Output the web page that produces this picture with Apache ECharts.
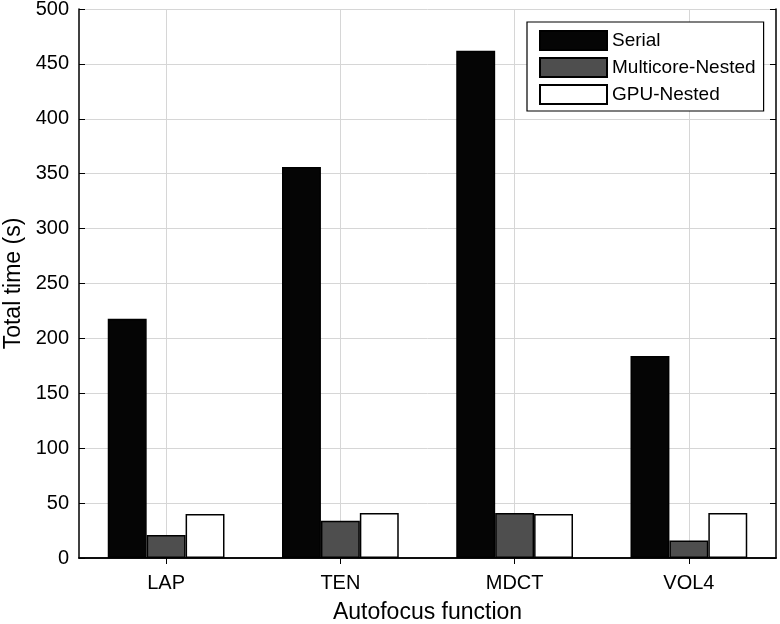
<!DOCTYPE html>
<html>
<head>
<meta charset="utf-8">
<script src="https://cdn.jsdelivr.net/npm/echarts@6/dist/echarts.min.js"></script>
<style>
html,body{margin:0;padding:0;background:#fff;}
#chart{width:780px;height:624px;}
</style>
</head>
<body>
<div id="chart"></div>
<script>
const categories = ['LAP', 'TEN', 'MDCT', 'VOL4'];
const serial = [218, 356, 462, 184];
const multicoreNested = [21, 34, 41, 16];
const gpuNested = [40, 41, 40, 41];
const yTicks = [0, 50, 100, 150, 200, 250, 300, 350, 400, 450, 500];

const FONT = 'Liberation Sans, Arial, Helvetica, sans-serif';
const topAxisData = [''];
categories.forEach(c => { topAxisData.push(c); topAxisData.push(''); });

const chart = echarts.init(document.getElementById('chart'), null, {renderer: 'canvas'});
chart.setOption({
  backgroundColor: '#ffffff',
  animation: false,
  textStyle: {fontFamily: FONT},
  grid: {left: 79, right: 4, top: 9, bottom: 66, containLabel: false, outerBoundsMode: 'none'},
  legend: {
    orient: 'vertical',
    left: 527, top: 22,
    padding: [8, 8, 6, 12],
    borderColor: '#000', borderWidth: 1.2,
    backgroundColor: '#fff',
    itemWidth: 67, itemHeight: 19, itemGap: 6,
    icon: 'rect',
    textStyle: {fontSize: 19, color: '#000', fontFamily: FONT},
    data: ['Serial', 'Multicore-Nested', 'GPU-Nested']
  },
  xAxis: [{
    type: 'category',
    data: categories,
    position: 'bottom',
    name: 'Autofocus function',
    nameLocation: 'middle',
    nameGap: 43,
    nameTextStyle: {fontSize: 23, color: '#000', fontFamily: FONT},
    axisLine: {lineStyle: {color: '#000', width: 1.5}},
    axisTick: {show: true, inside: true, alignWithLabel: true, length: 6, lineStyle: {color: '#000'}},
    axisLabel: {fontSize: 20, color: '#000', margin: 15, fontFamily: FONT},
    splitLine: {show: false}
  }, {
    type: 'category',
    data: topAxisData,
    position: 'top',
    boundaryGap: false,
    axisLine: {show: true, lineStyle: {color: '#000', width: 1.5}},
    axisTick: {show: true, inside: true, length: 6, interval: (i) => i % 2 === 1, lineStyle: {color: '#000'}},
    axisLabel: {show: false},
    splitLine: {show: true, interval: (i) => i % 2 === 1, lineStyle: {color: '#d6d6d6', width: 1}}
  }],
  yAxis: [{
    type: 'value',
    min: 0, max: 500, interval: 50,
    position: 'left',
    name: 'Total time (s)',
    nameLocation: 'middle',
    nameGap: 53,
    nameTextStyle: {fontSize: 23, color: '#000', fontFamily: FONT},
    axisLine: {show: true, lineStyle: {color: '#000', width: 1.5}},
    axisTick: {show: true, inside: true, length: 6, lineStyle: {color: '#000'}},
    axisLabel: {fontSize: 20, color: '#000', margin: 10, fontFamily: FONT,
      formatter: (v) => yTicks.includes(v) ? String(v) : ''},
    splitLine: {show: true, lineStyle: {color: '#d6d6d6', width: 1}}
  }, {
    type: 'value',
    min: 0, max: 500, interval: 50,
    position: 'right',
    axisLine: {show: true, lineStyle: {color: '#000', width: 1.5}},
    axisTick: {show: true, inside: true, length: 6, lineStyle: {color: '#000'}},
    axisLabel: {show: false},
    splitLine: {show: false}
  }],
  series: [{
    name: 'Serial', type: 'bar', data: serial,
    barGap: '0%', barCategoryGap: '33%',
    itemStyle: {color: '#050505', borderColor: '#000', borderWidth: 1.5}
  }, {
    name: 'Multicore-Nested', type: 'bar', data: multicoreNested,
    barGap: '0%', barCategoryGap: '33%',
    itemStyle: {color: '#4e4e4e', borderColor: '#000', borderWidth: 1.5}
  }, {
    name: 'GPU-Nested', type: 'bar', data: gpuNested,
    barGap: '0%', barCategoryGap: '33%',
    itemStyle: {color: '#ffffff', borderColor: '#000', borderWidth: 1.5}
  }]
});
</script>
</body>
</html>
